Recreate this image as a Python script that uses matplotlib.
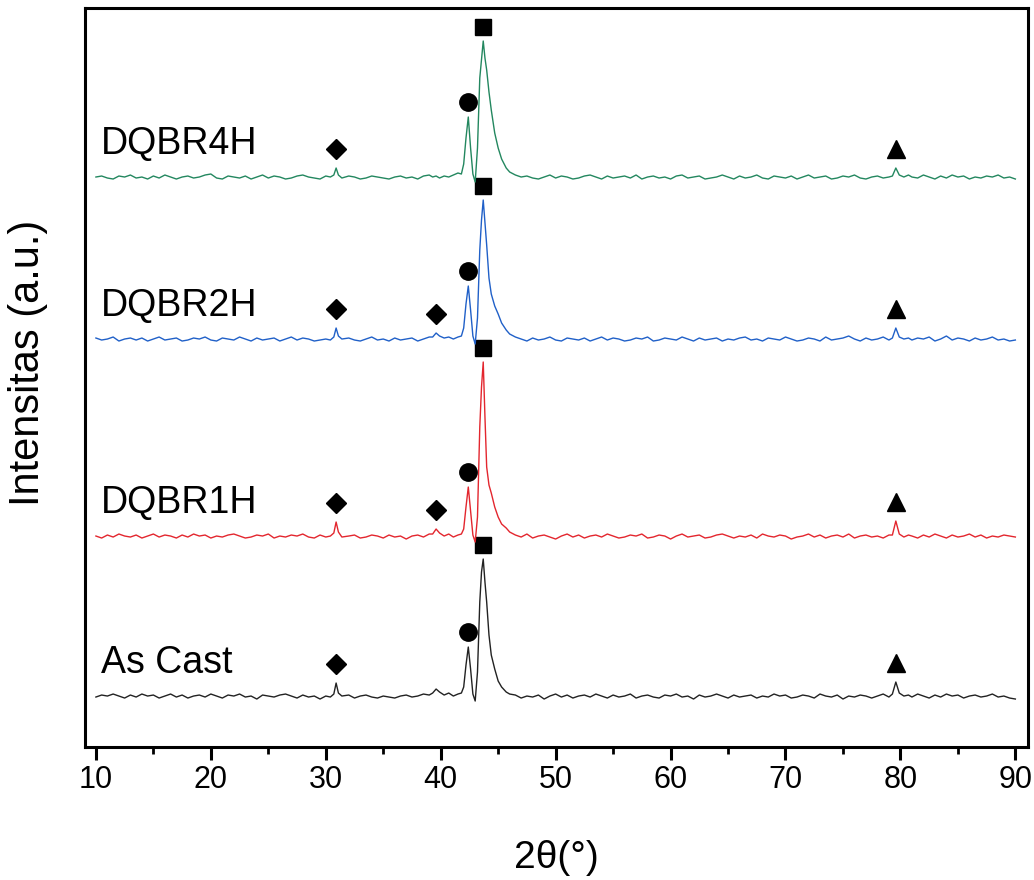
import numpy as np
import matplotlib
matplotlib.use("Agg")
import matplotlib.pyplot as plt
from matplotlib.ticker import MultipleLocator

plt.rcParams['font.family'] = ['Liberation Sans', 'DejaVu Sans']

# 2-theta sampling (degrees): coarse in the background, finer around the peaks
theta = np.concatenate([
    np.arange(10, 30.01, 0.5),
    [30.4, 30.7, 30.9, 31.1, 31.4],
    np.arange(32, 39.01, 0.5),
    [39.3, 39.6, 39.9, 40.3, 40.7, 41.1, 41.5],
    [41.8, 42.0, 42.2, 42.4, 42.6, 42.8, 43.0, 43.2, 43.4, 43.55, 43.7, 43.85,
     44.0, 44.2, 44.4, 44.7, 45.0, 45.3, 45.7, 46.0],
    np.arange(46.5, 79.01, 0.5),
    [79.3, 79.6, 79.9, 80.3, 80.7],
    np.arange(81, 90.01, 0.5),
])

# intensities (a.u.) above each pattern's own baseline
as_cast = (
    [0, 2, 1, 3, 1, -1, 2, 0, 3, 1, 2, -1, 1, 3, 0, 2, -1, 1, 2, 0, 3, 1, -1, 2, 1,
     3, 0, 1, -2, 2, 1, 0, 2, 3, 1, -1, 2, 0, 1, -2, 1]
    + [0, 3, 14, 4, 1]
    + [2, -1, 1, 2, 0, -1, 1, 0, -1, 1, 2, 0, 1, 3, 2]
    + [4, 8, 5, 2, 4, 1, 3]
    + [4, 10, 32, 50, 28, 3, -4, 25, 95, 125, 138, 115, 95, 62, 42, 28, 16, 10, 5, 3]
    + [2, -1, 1, 0, 2, -2, 1, 3, 0, 2, -1, 1, 2, 0, 3, 1, -1, 2, 0, 1, 3, -1, 1, 2,
       0, -1, 2, 1, 3, 0, 1, -2, 2, 0, 1, 3, 1, -1, 2, 0, 1, 2, -1, 1, 0, 3, 1, 2,
       -1, 0, 2, 1, -1, 3, 1, 0, 2, -2, 1, 0, 2, 1, -1, 1, 3, 0]
    + [3, 15, 4, 1, 2]
    + [0, 3, 1, -1, 2, 0, 3, 1, 2, -1, 1, 2, 0, 1, 3, 0, 1, -1, -2]
)

dqbr1h = (
    [1, -1, 2, 0, 3, 1, 0, 2, -1, 1, 3, 0, 2, 1, -1, 2, 0, 3, 1, 2, -1, 1, 0, 2, 3,
     1, -1, 0, 2, 1, 3, -1, 1, 0, 2, 1, 3, 0, -1, 2, 0]
    + [1, 4, 15, 5, 0]
    + [1, 2, -1, 0, 2, 1, -1, 2, 0, 1, -2, 1, 2, 0, 3]
    + [3, 8, 4, 1, 3, 0, 2]
    + [3, 8, 30, 50, 26, 2, -5, 20, 110, 150, 175, 120, 70, 52, 44, 30, 20, 13, 9, 5]
    + [2, 0, 3, -1, 1, 2, 0, -2, 1, 3, 0, 2, -1, 1, 2, 0, 3, 1, -1, 0, 2, 1, 3, -1,
       0, 2, 1, -2, 1, 3, 0, 1, 2, -1, 0, 2, 3, 1, -1, 1, 0, 2, -1, 3, 1, 0, 2, 1,
       -2, 0, 1, 3, 0, 2, -1, 1, 2, 0, 3, -1, 1, 2, 0, 1, -1, 2]
    + [2, 16, 3, 0, 2]
    + [1, -1, 2, 0, 3, 1, -1, 2, 0, 1, 3, 0, 2, -1, 1, 0, 2, 1, 0]
)

dqbr2h = (
    [2, 0, 1, 3, -1, 1, 2, 0, 2, -1, 1, 3, 0, 1, 2, -1, 0, 2, 1, 3, 0, -1, 2, 1, 0,
     3, 1, -1, 2, 0, 1, 2, -1, 1, 3, 0, 2, 1, -1, 0, 1]
    + [0, 3, 12, 4, 1]
    + [2, 0, -1, 1, 3, 0, 1, -1, 2, 0, 1, 2, -1, 1, 3]
    + [3, 7, 4, 2, 3, 1, 3]
    + [4, 12, 36, 54, 30, 4, -4, 22, 90, 120, 140, 118, 95, 62, 46, 34, 26, 17, 10, 6]
    + [3, 1, -1, 2, 0, 1, 3, 0, -1, 2, 1, 0, 2, -1, 1, 3, 0, 2, 1, -1, 0, 2, 1, 3,
       -1, 0, 2, 1, 0, 3, 1, -1, 2, 0, 1, 2, -1, 1, 0, 2, 3, 0, 1, -1, 2, 1, 0, 3,
       1, -1, 0, 2, 1, -1, 3, 0, 1, 2, 4, 1, -1, 2, 0, 1, 3, 0]
    + [2, 12, 3, 1, 2]
    + [0, 2, 1, 3, -1, 1, 4, 0, 2, 1, -1, 2, 0, 1, 3, 0, 1, -1, 0]
)

dqbr4h = (
    [1, 2, 0, -1, 2, 1, 3, 0, 1, -1, 2, 0, 3, 1, -1, 1, 2, 0, 1, 3, 4, 0, -1, 2, 1,
     0, 2, -1, 1, 3, 0, 2, 1, -1, 0, 2, 3, 1, 0, -1, 2]
    + [1, 3, 10, 3, 0]
    + [2, 1, -1, 0, 2, 1, 0, -1, 1, 2, 0, 1, -1, 2, 3]
    + [1, 2, 0, 2, 1, 3, 5]
    + [4, 14, 40, 61, 30, 4, -4, 30, 100, 118, 137, 120, 108, 86, 68, 45, 30, 19, 10, 6]
    + [3, 1, 2, 0, -1, 1, 3, 0, 2, 1, -1, 0, 2, 3, 1, -1, 2, 0, 1, 2, 0, 3, -1, 1,
       2, 0, 1, -1, 2, 3, 0, 1, 2, -1, 0, 1, 3, 1, -1, 2, 0, 1, 3, 0, -1, 2, 1, 0,
       2, -1, 1, 3, 0, 1, 2, -1, 0, 2, 1, 3, 0, -1, 1, 2, 0, 1]
    + [2, 10, 3, 1, 3]
    + [1, 0, 3, 1, -1, 2, 0, 3, 1, 2, -1, 1, 0, 2, 1, 3, 0, 1, -1]
)

labels = ['As Cast', 'DQBR1H', 'DQBR2H', 'DQBR4H']
patterns = [as_cast, dqbr1h, dqbr2h, dqbr4h]
offsets = [0, 160, 357, 519]
colors = ['#222222', '#e3262e', '#2060c8', '#23875f']

# phase peak positions (2theta) marked on each pattern
peak_square = [43.7]
peak_circle = [42.4]
peak_diamond = [[30.9], [30.9, 39.6], [30.9, 39.6], [30.9]]
peak_triangle = [79.6]

fig = plt.figure(figsize=(10.34, 8.8), dpi=100)
ax = fig.add_axes([0.0822, 0.1511, 0.912, 0.8398])


def mark(ax, x, y, off, peaks, marker, size, pad):
    y = np.asarray(y)
    for p in peaks:
        near = np.abs(x - p) <= 0.35
        top = y[near].max()
        ax.plot(p, off + top + pad, marker=marker, color='black',
                markersize=size, linestyle='none')


for lab, y, off, c, dia in zip(labels, patterns, offsets, colors, peak_diamond):
    ax.plot(theta, np.asarray(y) + off, color=c, linewidth=1.0)
    mark(ax, theta, y, off, peak_square, 's', 12, 14)
    mark(ax, theta, y, off, peak_circle, 'o', 12.5, 15)
    mark(ax, theta, y, off, dia, 'D', 10, 19)
    mark(ax, theta, y, off, peak_triangle, '^', 12.5, 19)
    ax.text(10.4, off + 34, lab, fontsize=27, va='center', ha='left')

ax.set_xlim(9.05, 91.1)
ax.set_ylim(-50, 689)
ax.xaxis.set_major_locator(MultipleLocator(10))
ax.xaxis.set_minor_locator(MultipleLocator(5))
ax.set_yticks([])
ax.tick_params(axis='x', which='major', direction='out', length=9, width=2.2,
               labelsize=22, pad=4)
ax.tick_params(axis='x', which='minor', direction='out', length=5, width=2)
for s in ax.spines.values():
    s.set_linewidth(2.2)

ax.set_xlabel('2θ(°)', fontsize=28, labelpad=32)
ax.set_ylabel('Intensitas (a.u.)', fontsize=30)
ax.yaxis.set_label_coords(-0.039, 0.52)

fig.savefig('out.png', dpi=100)
